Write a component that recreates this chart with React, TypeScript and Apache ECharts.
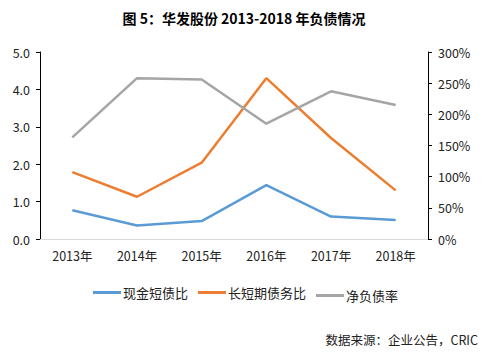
import React, { useEffect, useRef } from "react";
import * as echarts from "echarts";

const categories = ["2013年", "2014年", "2015年", "2016年", "2017年", "2018年"];
const cashShortDebt = [0.77, 0.36, 0.48, 1.44, 0.6, 0.51];
const longShortDebt = [1.79, 1.13, 2.04, 4.3, 2.7, 1.3];
const netDebtRatio = [163, 258, 256, 185, 237, 215];
const seriesNames = ["现金短债比", "长短期债务比", "净负债率"];
const titleText = "图 5：华发股份 2013-2018 年负债情况";
const sourceText = "数据来源：企业公告，CRIC";

const FONT = '"Noto Sans CJK SC", "Noto Sans", sans-serif';

export default function App() {
  const ref = useRef<HTMLDivElement>(null);
  useEffect(() => {
    if (!ref.current) return;
    const chart = echarts.init(ref.current, undefined, { renderer: "svg" });
    const legendBase = {
      orient: "horizontal",
      itemWidth: 28,
      itemHeight: 3,
      itemGap: 0,
      icon: "rect",
      textStyle: { fontFamily: FONT, fontSize: 13, color: "#222", padding: [0, 0, 0, -3] },
    };
    chart.setOption({
      animation: false,
      textStyle: { fontFamily: FONT },
      title: {
        text: titleText,
        left: 239,
        textAlign: "center",
        top: 6,
        textStyle: { fontFamily: FONT, fontSize: 14, fontWeight: "bold", color: "#000" },
      },
      legend: [
        { ...legendBase, data: [seriesNames[0]], left: 88, top: 281 },
        { ...legendBase, data: [seriesNames[1]], left: 193, top: 281 },
        { ...legendBase, data: [seriesNames[2]], left: 311, top: 284 },
      ],
      grid: { left: 40, right: 63, top: 52, bottom: 116, containLabel: false },
      xAxis: {
        type: "category",
        data: categories,
        boundaryGap: true,
        axisLine: { lineStyle: { color: "#d9d9d9", width: 1 } },
        axisTick: { show: false },
        axisLabel: { fontFamily: FONT, fontSize: 12.5, color: "#222", margin: 10 },
      },
      yAxis: [
        {
          type: "value",
          min: 0,
          max: 5,
          interval: 1,
          axisLine: { show: true, lineStyle: { color: "#000", width: 1 } },
          axisTick: { show: true, length: 4, lineStyle: { color: "#000" } },
          splitLine: { show: false },
          axisLabel: {
            fontFamily: FONT,
            fontSize: 12.5,
            color: "#222",
            margin: 10,
            formatter: (v: number) => v.toFixed(1),
          },
        },
        {
          type: "value",
          min: 0,
          max: 300,
          interval: 50,
          position: "right",
          axisLine: { show: true, lineStyle: { color: "#000", width: 1 } },
          axisTick: { show: true, length: 4, lineStyle: { color: "#000" } },
          splitLine: { show: false },
          axisLabel: {
            fontFamily: FONT,
            fontSize: 12.5,
            color: "#222",
            margin: 10,
            formatter: (v: number) => v + "%",
          },
        },
      ],
      series: [
        {
          name: seriesNames[0],
          type: "line",
          data: cashShortDebt,
          yAxisIndex: 0,
          symbol: "none",
          lineStyle: { color: "#5B9BD5", width: 2.5 },
          itemStyle: { color: "#5B9BD5" },
        },
        {
          name: seriesNames[1],
          type: "line",
          data: longShortDebt,
          yAxisIndex: 0,
          symbol: "none",
          lineStyle: { color: "#ED7D31", width: 2.5 },
          itemStyle: { color: "#ED7D31" },
        },
        {
          name: seriesNames[2],
          type: "line",
          data: netDebtRatio,
          yAxisIndex: 1,
          symbol: "none",
          lineStyle: { color: "#A5A5A5", width: 2.5 },
          itemStyle: { color: "#A5A5A5" },
        },
      ],
      graphic: [
        {
          type: "text",
          right: 13,
          top: 333,
          style: { text: sourceText, fontFamily: FONT, fontSize: 12.5, fill: "#222" },
        },
      ],
    });
    return () => chart.dispose();
  }, []);
  return <div ref={ref} style={{ width: 491, height: 355, position: "absolute", left: 0, top: 0 }} />;
}
